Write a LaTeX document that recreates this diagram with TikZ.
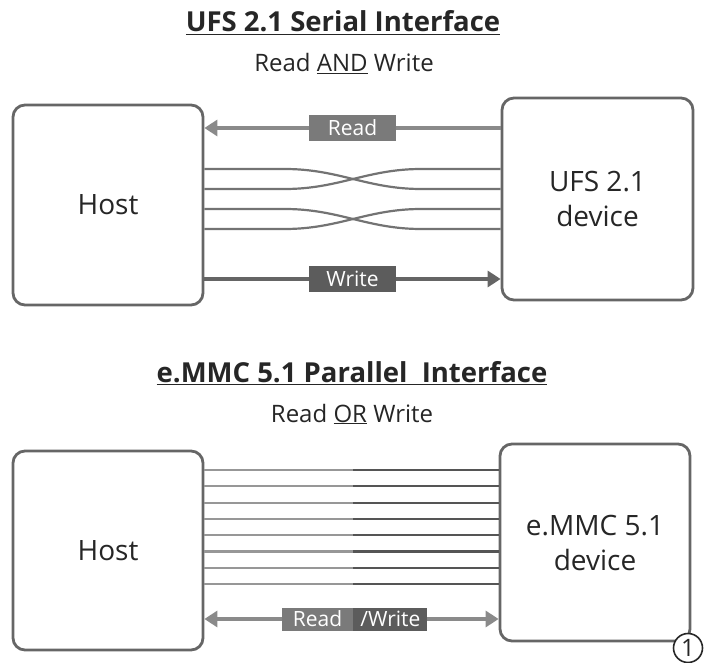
\documentclass[tikz,border=0pt]{standalone}
\usepackage{fontspec}
\setmainfont{Open Sans}
\usetikzlibrary{arrows.meta,positioning}
\definecolor{boxgray}{HTML}{666666}
\definecolor{txtgray}{HTML}{262626}
\definecolor{readgray}{HTML}{8A8A8A}
\definecolor{writegray}{HTML}{656565}
\definecolor{lblread}{HTML}{7A7A7A}
\definecolor{lblwrite}{HTML}{5C5C5C}
\definecolor{wiregray}{HTML}{737373}
\definecolor{buslight}{HTML}{979797}
\definecolor{busdark}{HTML}{555555}
\tikzset{
  box/.style={draw=boxgray, line width=2.8pt, rounded corners=12pt, fill=white,
    text=txtgray, align=center, font=\fontsize{28}{35}\selectfont},
  lbl/.style={text=white, inner sep=0pt, font=\fontsize{21}{21}\selectfont},
  arr/.style={line width=4pt, -{Triangle[length=13pt,width=16pt]}},
  wire/.style={line width=2.2pt, wiregray},
  ttl/.style={anchor=base, text=txtgray, font=\bfseries\fontsize{27.5}{27.5}\selectfont},
  subttl/.style={anchor=base, text=txtgray, font=\fontsize{24}{24}\selectfont}
}

\begin{document}
\begin{tikzpicture}[x=1pt, y=-1pt]
  \useasboundingbox (0,0) rectangle (707,663);
  % Serial interface
  \node[ttl] (title1) at (343,32) {\underline{UFS 2.1 Serial Interface}};
  \node[subttl] (sub1) at (344,72) {Read \underline{AND} Write};
  \node[box, minimum width=190pt, minimum height=200pt] (host1) at (108,205) {Host};
  \node[box, minimum width=191pt, minimum height=202pt] (dev1) at (597.5,199) {UFS 2.1\\device};
  % Read / Write arrows
  \draw[arr, readgray] (dev1.west |- 0,128) -- node[lbl, fill=lblread, minimum width=87pt, minimum height=26pt] (readlbl) {Read} (host1.east |- 0,128);
  \draw[arr, writegray] (host1.east |- 0,279) -- node[lbl, fill=lblwrite, minimum width=87pt, minimum height=26pt] (writelbl) {Write} (dev1.west |- 0,279);
  % Crossed pairs
  \foreach \ya/\yb in {169/189, 209/229} {
    \draw[wire] (host1.east |- 0,\ya) -- (285,\ya) to[out=0, in=180] (421,\yb) -- (dev1.west |- 0,\yb);
    \draw[wire] (host1.east |- 0,\yb) -- (285,\yb) to[out=0, in=180] (421,\ya) -- (dev1.west |- 0,\ya);
  }
  % Parallel interface
  \node[ttl] (title2) at (352,382) {\underline{e.MMC 5.1 Parallel\ \ Interface}};
  \node[subttl] (sub2) at (352,422) {Read \underline{OR} Write};
  \node[box, minimum width=190pt, minimum height=199pt] (host2) at (108,550.5) {Host};
  \node[box, minimum width=190pt, minimum height=197pt] (dev2) at (595,542.5) {e.MMC 5.1\\device};
  % Bus lines
  \foreach \y in {470,486.3,502.6,518.9,535.2,551.5,567.8,584.1} {
    \draw[line width=2.2pt, buslight] (host2.east |- 0,\y) -- (353,\y);
    \draw[line width=2.2pt, busdark] (353,\y) -- (dev2.west |- 0,\y);
  }
  % Read/Write arrow
  \draw[arr, {Triangle[length=13pt,width=16pt]}-{Triangle[length=13pt,width=16pt]}, readgray]
    (host2.east |- 0,619) -- (dev2.west |- 0,619);
  \node[lbl, fill=lblread, minimum width=71pt, minimum height=23pt] (rdlbl) at (317.5,619) {Read};
  \node[lbl, fill=lblwrite, minimum width=74pt, minimum height=23pt, right=0pt of rdlbl] (wrlbl) {/Write};
  % Figure number
  \node[circle, draw=txtgray, line width=1.6pt, fill=white, minimum size=29pt, inner sep=0pt,
    text=txtgray, font=\fontsize{24}{24}\selectfont] (fignum) at (688,648) {1};
\end{tikzpicture}
\end{document}
